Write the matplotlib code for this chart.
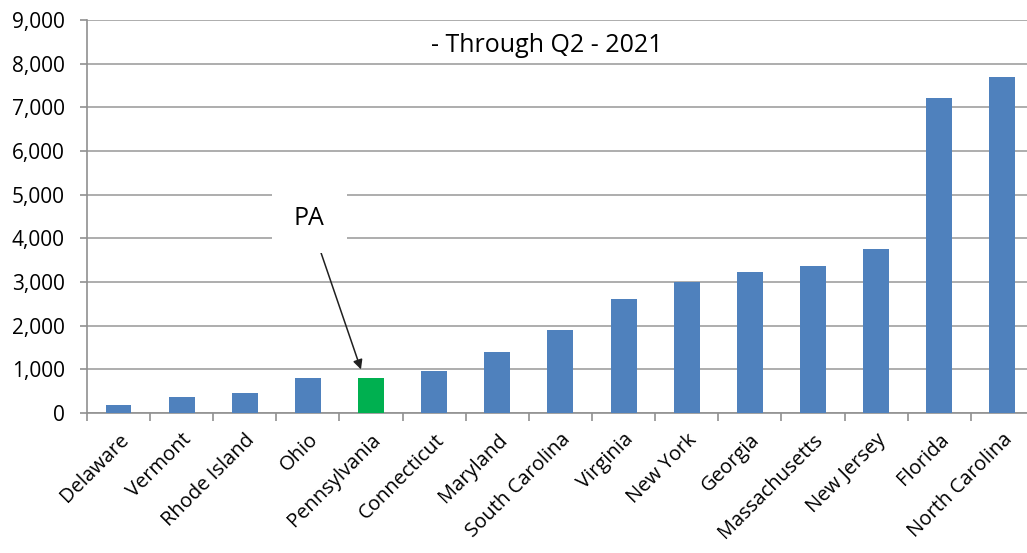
import matplotlib.pyplot as plt
import numpy as np

# states, sorted by value
states = ['Delaware', 'Vermont', 'Rhode Island', 'Ohio', 'Pennsylvania',
          'Connecticut', 'Maryland', 'South Carolina', 'Virginia', 'New York',
          'Georgia', 'Massachusetts', 'New Jersey', 'Florida', 'North Carolina']
values = [180, 370, 450, 800, 800, 960, 1400, 1900, 2610, 3000,
          3240, 3360, 3750, 7215, 7695]
highlight = 'Pennsylvania'

plt.rcParams['font.family'] = ['Open Sans', 'DejaVu Sans']

fig = plt.figure(figsize=(10.27, 5.53), dpi=100)
# axes run slightly past the right edge, like the original export
ax = fig.add_axes([0.0847, 0.253, 0.922, 0.711])

x = np.arange(len(states))
colors = ['#00B050' if s == highlight else '#4F81BD' for s in states]
ax.bar(x, values, width=0.41, color=colors, zorder=3)

ax.set_xlim(-0.5, len(states) - 0.5)
ax.set_ylim(0, 9000)
ax.set_yticks(range(0, 9001, 1000))
ax.set_yticklabels([f'{v:,}' for v in range(0, 9001, 1000)], fontsize=15)
ax.yaxis.grid(True, color='#A0A0A0', linewidth=1.2, zorder=0)

# category ticks sit between the bars
ax.set_xticks(x)
ax.set_xticklabels(states, rotation=45, ha='right', rotation_mode='anchor',
                   fontsize=14.5)
ax.tick_params(axis='x', length=0, pad=12)
ax.set_xticks(np.arange(-0.5, len(states), 1), minor=True)
ax.tick_params(axis='x', which='minor', length=6, color='#909090', width=1.2)
ax.tick_params(axis='y', length=5, color='#909090', width=1.2, pad=11)

for side in ['top', 'right']:
    ax.spines[side].set_visible(False)
for side in ['left', 'bottom']:
    ax.spines[side].set_color('#909090')
    ax.spines[side].set_linewidth(1.2)

ax.text(6.79, 8420, '- Through Q2 - 2021', ha='center', va='center',
        fontsize=18, zorder=5,
        bbox=dict(facecolor='white', edgecolor='none', pad=4))

pa = states.index(highlight)
ax.annotate('PA', xy=(pa - 0.16, 1000), xytext=(pa - 0.98, 4460),
            ha='center', va='center', fontsize=18, zorder=5,
            bbox=dict(facecolor='white', edgecolor='none', pad=16),
            arrowprops=dict(arrowstyle='-|>', color='#202020', lw=1.1,
                            shrinkA=0, shrinkB=0, mutation_scale=14))

fig.savefig('out.png', dpi=100)
